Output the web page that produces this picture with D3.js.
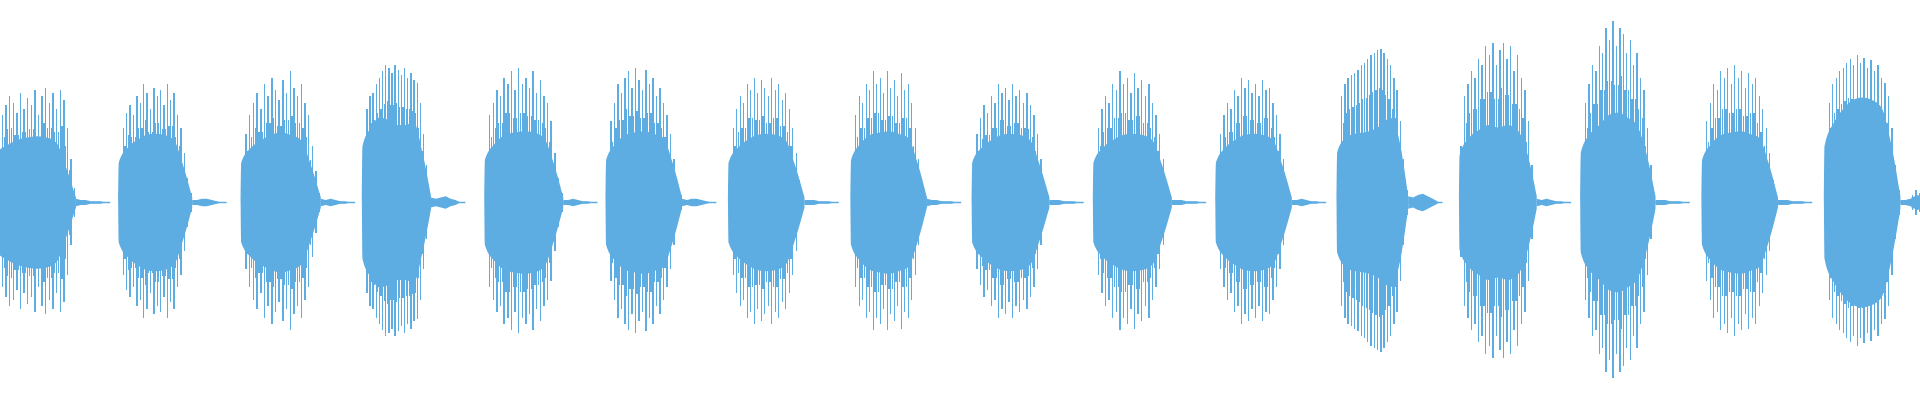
<!DOCTYPE html>
<html><head><meta charset="utf-8">
<script src="https://cdn.jsdelivr.net/npm/d3@7"></script>
<style>html,body{margin:0;padding:0;background:#fff;overflow:hidden}</style>
</head><body><svg id="c" width="1920" height="400"></svg>
<script>
// time positions (arbitrary time units) of each burst start and its length
const burstStart = [-2,97,197,296,396,495,595,695,794,893,993,1092,1192,1291,1390,1490,1561];
const burstLen   = [64,60,65,56,64,62,62,62,63,64,62,58,63,61,62,62,60];
// peak amplitudes of the thin spikes across each burst
const spikeAmps = [
 [40,70,78,85,80,72,88,75,84,78,90,70,85,92,80,88,75,90,82,60,35,12],
 [30,60,72,78,70,85,80,95,88,75,92,85,90,78,95,82,88,70,60,40,20,8],
 [25,55,70,80,88,75,95,85,100,90,82,98,88,105,92,85,95,80,70,45,25,8],
 [30,75,85,88,95,100,105,110,108,104,110,106,102,108,100,104,98,96,80,55,30,10],
 [35,70,80,90,85,100,95,105,90,108,95,100,92,105,88,98,85,80,65,40,20,8],
 [30,65,80,95,88,100,105,92,108,98,90,106,95,100,85,92,80,70,55,35,15,6],
 [30,60,75,85,80,95,90,100,88,98,92,85,100,90,95,82,88,75,60,40,18,6],
 [35,70,85,80,95,90,105,95,100,88,105,92,98,85,104,90,95,80,60,35,15,6],
 [25,55,68,78,72,85,80,95,88,92,82,95,85,90,80,88,78,70,55,35,15,6],
 [30,60,75,85,80,95,90,105,95,100,88,104,92,98,85,95,80,70,55,35,15,6],
 [25,55,70,80,75,90,85,100,92,98,88,95,85,98,90,92,80,70,55,35,15,6],
 [40,85,95,100,102,104,106,110,112,115,118,120,122,123,120,115,110,100,90,65,35,10],
 [45,85,95,105,100,115,110,125,118,128,110,122,128,115,125,105,118,100,90,65,30,8],
 [40,80,95,110,105,125,120,140,130,145,125,140,135,120,130,110,120,100,90,60,30,8],
 [30,65,80,95,90,105,100,108,95,110,100,105,92,104,95,100,85,75,60,40,18,6],
 [40,80,95,100,105,108,112,115,110,118,112,116,108,114,105,110,100,96,85,60,30,10],
 [6,10,8,12,10,14,12,16,14,18,16,20,18,20,22,20,22,24,22,24,26,24]
];
// dense core envelope of each burst
const coreAmps = [
 [40,46,50,52,53,52,48,28,4],
 [32,44,50,54,55,54,50,30,4],
 [32,44,50,54,56,54,50,30,4],
 [45,60,68,66,62,62,64,40,5],
 [34,47,54,56,57,56,52,32,4],
 [34,47,54,56,57,55,52,32,4],
 [32,44,50,54,55,54,50,30,4],
 [34,47,54,56,57,55,52,32,4],
 [32,44,50,54,55,54,50,30,4],
 [32,44,50,54,55,54,50,30,4],
 [32,44,50,54,55,54,50,30,4],
 [40,52,55,56,58,62,68,50,5],
 [38,52,58,62,60,62,58,40,5],
 [40,55,62,70,72,68,62,40,5],
 [34,47,54,56,57,55,52,32,4],
 [45,64,75,82,84,82,76,48,5],
 [4,6,8,9,10,11,12,13,14]
];
// low noise between bursts
const tailAmps = [
 [3,2,2,1,1,1,0],[2,2,3,3,2,1,0],[3,2,3,2,1,1,0],[4,3,4,5,3,2,0],
 [2,2,3,2,1,1,0],[3,2,3,3,2,1,0],[2,2,2,1,1,1,0],[3,2,2,1,1,1,0],
 [2,2,2,1,1,1,0],[2,2,2,1,1,1,0],[2,2,3,2,1,1,0],[5,4,6,7,5,3,1],
 [3,2,3,2,1,1,0],[2,2,2,1,1,1,0],[2,2,2,1,1,1,0],[2,2,3,2,1,1,0],[0,0,0,0,0,0,0]
];

const color = "#5dade2";
const x = d3.scaleLinear().domain([0,1568]).range([0,1920]);
const y = d3.scaleLinear().domain([-158,162]).range([400,0]);
const svg = d3.select("#c");
const g = svg.append("g");
const area = d3.area().x(d=>x(d.t)).y0(d=>y(-d.v)).y1(d=>y(d.v));

burstStart.forEach((s,i)=>{
  const len = burstLen[i];
  const core = coreAmps[i];
  const cpts = core.map((v,k)=>({t: s + len*k/(core.length-1), v}));
  cpts.unshift({t:s-0.5, v:0});
  g.append("path").attr("d", area.curve(d3.curveMonotoneX)(cpts)).attr("fill", color);
  const sp = spikeAmps[i];
  g.selectAll(null).data(sp.map((v,k)=>({t: s + 1 + (len-2)*k/(sp.length-1), v})))
   .enter().append("line")
   .attr("x1",d=>x(d.t)).attr("x2",d=>x(d.t))
   .attr("y1",d=>y(d.v)).attr("y2",d=>y(-d.v*0.97))
   .attr("stroke",color).attr("stroke-width",1.4).attr("shape-rendering","crispEdges");
  g.selectAll(null).data(sp.slice(1,-2).map((v,k)=>({t: s + 1 + (len-2)*(k+1.5)/(sp.length-1), v:Math.min(v,sp[k+2])*0.75})))
   .enter().append("line")
   .attr("x1",d=>x(d.t)).attr("x2",d=>x(d.t))
   .attr("y1",d=>y(d.v)).attr("y2",d=>y(-d.v))
   .attr("stroke",color).attr("stroke-width",1.2).attr("shape-rendering","crispEdges");
  const tl = tailAmps[i];
  const tpts = tl.map((v,k)=>({t: s+len + k*4, v}));
  g.append("path").attr("d", area.curve(d3.curveLinear)(tpts)).attr("fill", color);
  g.append("line").attr("x1",x(s+len)).attr("x2",x(s+len+28)).attr("y1",y(0)).attr("y2",y(0))
   .attr("stroke",color).attr("stroke-width",1.5);
});
</script></body></html>
